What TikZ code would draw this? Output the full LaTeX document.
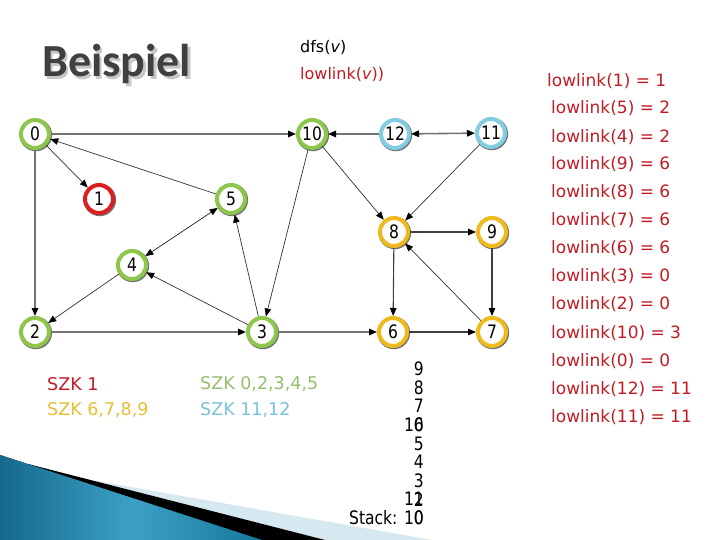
\documentclass[tikz,border=0pt]{standalone}
\usepackage{fontspec}
\setmainfont{DejaVu Sans}
\newfontfamily\titlefont{Carlito}
\newfontfamily\condfont{DejaVu Sans}[FakeStretch=0.84]
\usetikzlibrary{arrows.meta}
\definecolor{sgreen}{RGB}{141,198,75}
\definecolor{sred}{RGB}{220,30,30}
\definecolor{sblue}{RGB}{130,205,225}
\definecolor{syellow}{RGB}{240,185,30}
\definecolor{tred}{RGB}{192,28,36}
\definecolor{tgreen}{RGB}{150,190,110}
\definecolor{tyellow}{RGB}{228,192,50}
\definecolor{tblue}{RGB}{120,195,215}
\definecolor{titlegray}{RGB}{64,64,64}
\definecolor{bandlight}{RGB}{214,232,240}
\definecolor{blueL}{RGB}{20,105,138}
\definecolor{blueM}{RGB}{60,160,198}
\definecolor{blueR}{RGB}{22,120,155}
\begin{document}
\begin{tikzpicture}[x=1pt,y=-1pt,
  >={Triangle[length=8pt,width=6.5pt,color=black]},
  vx/.style={circle, draw=#1, line width=4pt, fill=white, minimum size=28pt,
    inner sep=0pt, font=\condfont\fontsize{18.5}{18.5}\selectfont},
  heavy/.style={draw=black!55, line width=1.6pt},
  medium/.style={draw=black!75, line width=1.1pt},
  light/.style={draw=black!80, line width=0.7pt},
  lltext/.style={anchor=west, inner sep=0pt, text=tred, font=\fontsize{17}{17}\selectfont},
  szk/.style={anchor=west, inner sep=0pt, font=\fontsize{17.5}{17.5}\selectfont},
  stk/.style={anchor=east, inner sep=0pt, font=\condfont\fontsize{18.5}{18.5}\selectfont}]
\useasboundingbox (0,0) rectangle (720,540);
\fill[white] (0,0) rectangle (720,540);

% bottom-left decoration
\fill[bandlight] (60,474.5) -- (432,540) -- (0,540) -- cycle;
\fill[black] (28,464) -- (325,540) -- (0,540) -- cycle;
\fill[left color=blueL, right color=blueR, middle color=blueM] (0,455) -- (262,540) -- (0,540) -- cycle;

% title
\node[anchor=base west, inner sep=0pt, text=black!22, font=\titlefont\bfseries\fontsize{46}{46}\selectfont] (titleshadow) at (44.5,79.5) {Beispiel};
\node[anchor=base west, inner sep=0pt, text=titlegray, font=\titlefont\bfseries\fontsize{46}{46}\selectfont] (title) at (42,77) {Beispiel};

\node[anchor=west, inner sep=0pt, font=\fontsize{16}{16}\selectfont] (dfs) at (300,47) {dfs(\textit{v})};
\node[anchor=west, inner sep=0pt, text=tred, font=\fontsize{16}{16}\selectfont] (low) at (300,74) {lowlink(\textit{v}))};

% lowlink list
\node[lltext] (ll1) at (547,80.7) {lowlink(1) = 1};
\foreach \y/\t [count=\i from 2] in {108.3/lowlink(5) = 2, 136.7/lowlink(4) = 2, 164.3/lowlink(9) = 6,
  192.3/lowlink(8) = 6, 220/lowlink(7) = 6, 248.3/lowlink(6) = 6, 276/lowlink(3) = 0,
  304.3/lowlink(2) = 0, 332.7/lowlink(10) = 3, 360.7/lowlink(0) = 0, 389/lowlink(12) = 11,
  416.7/lowlink(11) = 11}
  \node[lltext] (ll\i) at (551,\y) {\t};

% SZK
\node[szk, text=tred] (szk1) at (47,384) {SZK 1};
\node[szk, text=tyellow] (szk2) at (47,410.5) {SZK 6,7,8,9};
\node[szk, text=tgreen] (szk3) at (200,384) {SZK 0,2,3,4,5};
\node[szk, text=tblue] (szk4) at (200,410.5) {SZK 11,12};

% nodes with shadow
\foreach \n/\x/\y/\c in {0/35/134/sgreen, 10/312/134/sgreen, 12/395/134/sblue, 11/491/133/sblue,
  1/99/199/sred, 5/231/199/sgreen, 8/394/232/syellow, 9/492/232/syellow, 4/132/265/sgreen,
  2/35/332/sgreen, 3/262/332/sgreen, 6/393/332/syellow, 7/492/332/syellow}{
  \fill[black!55] (\x+0.8,\y+0.9) circle (16.3);
  \node[vx=\c] (n\n) at (\x,\y) {\n};
}

% edges
\draw[heavy,->] (n0) -- (n10);
\draw[heavy,->] (n0) -- (n2);
\draw[heavy,->] (n2) -- (n3);
\draw[heavy,->] (n3) -- (n6);
\draw[heavy,->] (n12) -- (n10);
\draw[heavy,<->] (n12) -- (n11);
\draw[light,->] (n0) -- (n1);
\draw[light,->] (n5) -- (n0);
\draw[light,<->] (n5) -- (n4);
\draw[light,->] (n3) -- (n5);
\draw[light,->] (n3) -- (n4);
\draw[light,->] (n4) -- (n2);
\draw[light,->] (n10) -- (n3);
\draw[light,->] (n10) -- (n8);
\draw[light,->] (n11) -- (n8);
\draw[light,->] (n7) -- (n8);
\draw[medium,->] (n8) -- (n9);
\draw[medium,->] (n8) -- (n6);
\draw[medium,->] (n9) -- (n7);
\draw[medium,->] (n6) -- (n7);

% stack
\node[stk] (s9) at (424,369) {9};
\node[stk] (s8) at (424,387.6) {8};
\node[stk] (s7) at (424,406.2) {7};
\node[stk] (s6) at (424,424.8) {6};
\node[stk] (s10a) at (424,424.8) {10};
\node[stk] (s5) at (424,443.4) {5};
\node[stk] (s4) at (424,462) {4};
\node[stk] (s3) at (424,480.6) {3};
\node[stk] (s2) at (424,499.2) {2};
\node[stk] (s11) at (424,499.2) {11};
\node[stk] (s0) at (424,517.8) {Stack: 10};
\node[stk] (s10b) at (424,517.8) {0};
\end{tikzpicture}
\end{document}
